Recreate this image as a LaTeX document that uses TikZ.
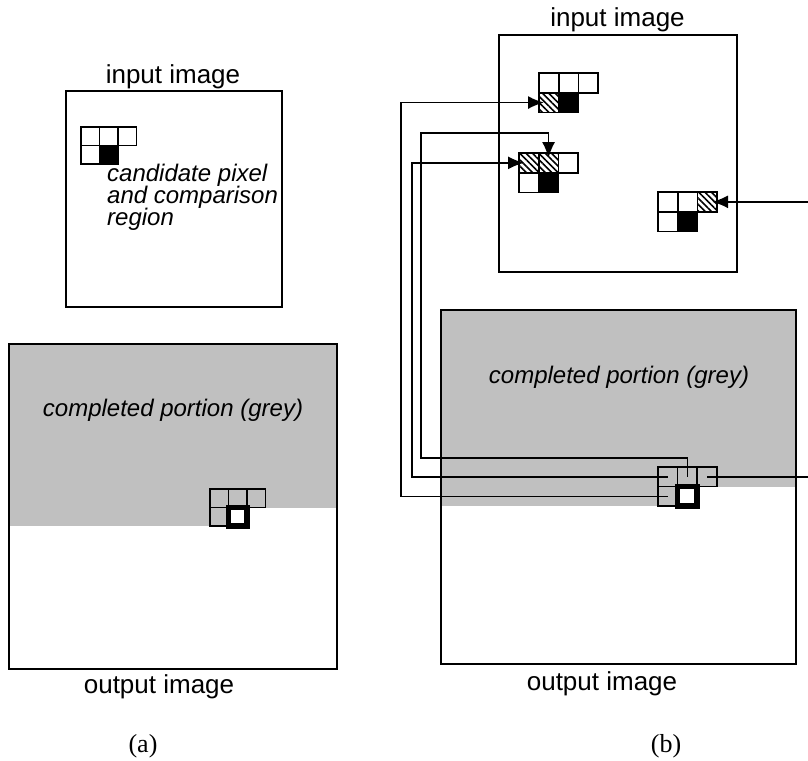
\documentclass[tikz,border=0pt]{standalone}
\usepackage{fontspec}
\setmainfont{Liberation Sans}
\newfontfamily\capfont{Liberation Serif}
\usetikzlibrary{arrows.meta,patterns.meta,calc}

\definecolor{donegrey}{RGB}{192,192,192}

\tikzset{
  frame/.style={draw, line width=1.8pt},
  cell/.style={draw, line width=1.7pt, inner sep=0pt, outer sep=0pt},
  blank/.style={},
  dark/.style={fill=black},
  hatch/.style={pattern={Lines[angle=-45,distance=4.5pt,line width=1.6pt]}},
  cand/.style={line width=5.5pt, fill=white},
  conn/.style={line width=1.7pt},
  arr/.style={conn, -{Latex[length=16pt,width=13pt]}, shorten >=-5pt},
  lbl/.style={font=\fontsize{26}{30}\selectfont, inner sep=0pt},
  note/.style={font=\fontsize{24}{28}\selectfont\itshape, inner sep=0pt},
}

% five-pixel neighbourhood: three on top, two below
% [cell size]{name}{top-left corner}{style 1}...{style 5}
\newcommand{\pixgrid}[8][19.7]{%
  \node[cell, minimum size=#1pt, #4] (#2-1) at ($(#3)+(0.5*#1,0.5*#1)$) {};
  \node[cell, minimum size=#1pt, #5] (#2-2) at ($(#3)+(1.5*#1,0.5*#1)$) {};
  \node[cell, minimum size=#1pt, #6] (#2-3) at ($(#3)+(2.5*#1,0.5*#1)$) {};
  \node[cell, minimum size=#1pt, #7] (#2-4) at ($(#3)+(0.5*#1,1.5*#1)$) {};
  \node[cell, minimum size=#1pt, #8] (#2-5) at ($(#3)+(1.5*#1,1.5*#1)$) {};
}

\begin{document}
\begin{tikzpicture}[x=1pt, y=-1pt]
  \useasboundingbox (0,0) rectangle (808,760);

  % completed (grey) parts of the output images
  \fill[donegrey] (9,344) rectangle (337,507.5);
  \fill[donegrey] (9,507.5) rectangle (228.5,526);
  \fill[donegrey] (441,310) rectangle (796,487);
  \fill[donegrey] (441,487) rectangle (677.6,506.2);

  % image frames
  \draw[frame] (66,91) rectangle (282,307);
  \draw[frame] (9,344) rectangle (337,669);
  \draw[frame] (499,35) rectangle (737,272);
  \draw[frame] (441,310) rectangle (796,664);

  % (a)
  \coordinate (ain) at (81,127);
  \coordinate (aout) at (210,489);
  \pixgrid[18.5]{ai}{ain}{blank}{blank}{blank}{blank}{dark}
  \pixgrid[18.5]{ao}{aout}{blank}{blank}{blank}{blank}{cand}

  \node[lbl, anchor=base] (ainlbl) at (173,84) {input image};
  \node[lbl, anchor=base] (aoutlbl) at (159,693) {output image};
  \node[note, anchor=base west] (cand1) at (107,181) {candidate pixel};
  \node[note, anchor=base west] (cand2) at (107,203) {and comparison};
  \node[note, anchor=base west] (cand3) at (107,225) {region};
  \node[note, anchor=base] (adone) at (173,416) {completed portion (grey)};
  \node[lbl, font=\capfont\fontsize{26}{30}\selectfont, anchor=base] (capa) at (143,752) {(a)};

  % (b)
  \coordinate (bin1) at (539,73);
  \coordinate (bin2) at (519,153);
  \coordinate (bin3) at (658,192);
  \coordinate (bout) at (658,467);
  \pixgrid{b1}{bin1}{blank}{blank}{blank}{hatch}{dark}
  \pixgrid{b2}{bin2}{hatch}{hatch}{blank}{blank}{dark}
  \pixgrid{b3}{bin3}{blank}{blank}{hatch}{blank}{dark}
  \pixgrid[19.6]{bo}{bout}{blank}{blank}{blank}{blank}{cand}

  \node[lbl, anchor=base] (binlbl) at (617.5,27) {input image};
  \node[lbl, anchor=base] (boutlbl) at (602,690) {output image};
  \node[note, anchor=base] (bdone) at (619,383) {completed portion (grey)};
  \node[lbl, font=\capfont\fontsize{26}{30}\selectfont, anchor=base] (capb) at (666,752) {(b)};

  % links from each neighbour to its match in the input
  \coordinate (k1) at (401,0);
  \coordinate (k2) at (412,0);
  \coordinate (k3) at (421,458);
  \coordinate (k3t) at (421,133);
  \coordinate (edge) at (808,0);
  \draw[arr] (bo-4.center) -- (bo-4.center -| k1) |- (b1-4.west);
  \draw[arr] (bo-1.center) -- (bo-1.center -| k2) |- (b2-1.west);
  \draw[arr] (bo-2.center) |- (k3) -- (k3t) -| (b2-2.north);
  \draw[conn] (bo-3.center) -- (bo-3.center -| edge);
  \draw[arr] (b3-3.east -| edge) -- (b3-3.east);
\end{tikzpicture}
\end{document}
